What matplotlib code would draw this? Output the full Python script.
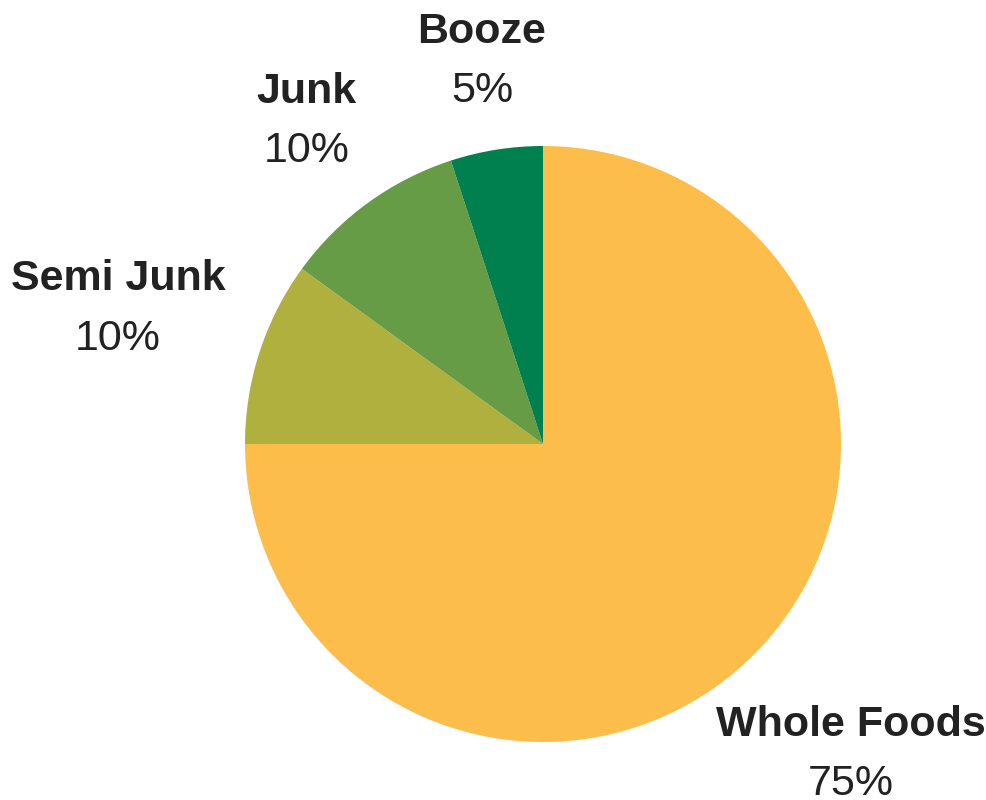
import numpy as np
import matplotlib
matplotlib.use("Agg")
import matplotlib.pyplot as plt

categories = ["Whole Foods", "Semi Junk", "Junk", "Booze"]
values = [75, 10, 10, 5]
colors = ["#FDBD4A", "#B0B03E", "#669C45", "#007F4F"]
label_dist = [1.46, 1.50, 1.35, 1.31]

W, H = 987, 800
cx, cy, R = 543, 444, 298

fig = plt.figure(figsize=(W / 100, H / 100), dpi=100)
ax = fig.add_axes([0, 0, 1, 1])
wedges, _ = ax.pie(values, colors=colors, startangle=90, counterclock=False,
                   radius=1, wedgeprops=dict(linewidth=0))
ax.set_xlim(-cx / R, (W - cx) / R)
ax.set_ylim((cy - H) / R, cy / R)
ax.set_aspect("equal")
ax.axis("off")

total = sum(values)
for w, cat, v, d in zip(wedges, categories, values, label_dist):
    ang = np.deg2rad((w.theta1 + w.theta2) / 2)
    x, y = d * np.cos(ang), d * np.sin(ang) - 0.01
    ax.text(x, y + 0.1, cat, ha="center", va="center", fontsize=31,
            fontweight="bold", family="Liberation Sans", color="#222222")
    ax.text(x, y - 0.1, f"{v / total * 100:.0f}%", ha="center", va="center",
            fontsize=31, family="Liberation Sans", color="#222222")

fig.savefig("out.png", dpi=100)
